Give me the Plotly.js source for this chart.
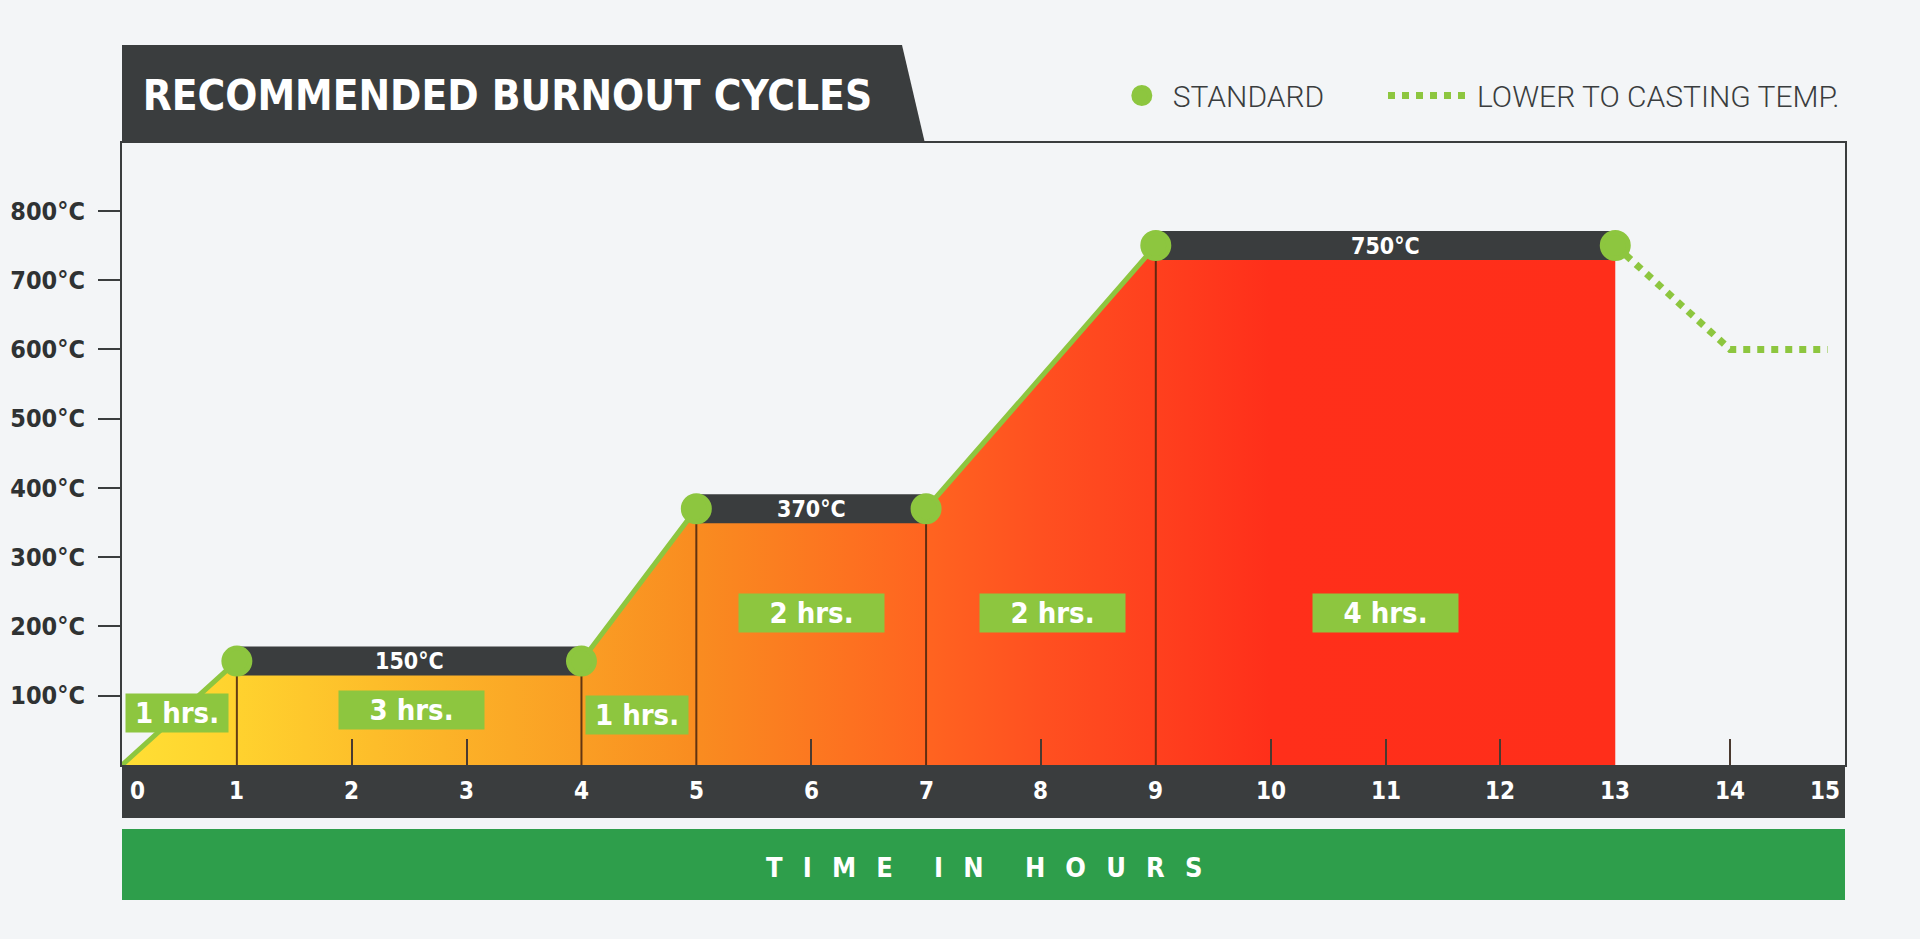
<!DOCTYPE html>
<html>
<head>
<meta charset="utf-8">
<script src="https://cdn.plot.ly/plotly-3.0.1.min.js"></script>
<style>
  html, body { margin: 0; padding: 0; background: #F3F5F7; }
  #chart { width: 1920px; height: 939px; }
</style>
</head>
<body>
<div id="chart"></div>
<script>
// ---------- data ----------
const cycleHours = [0, 1, 4, 5, 7, 9, 13];          // breakpoints of the standard cycle (h)
const cycleTemps = [0, 150, 150, 370, 370, 750, 750]; // temperature at each breakpoint (°C)

const holdStart = [1, 5, 9];
const holdEnd   = [4, 7, 13];
const holdTemp  = [150, 370, 750];

const castHours = [13, 14, 14.85];   // lower to casting temperature
const castTemps = [750, 600, 600];

const durationText  = ['1 hrs.', '3 hrs.', '1 hrs.', '2 hrs.', '2 hrs.', '4 hrs.'];
const durationHour  = [0.48, 2.52, 4.48, 6.0, 8.1, 11.0];
const durationTemp  = [75, 79, 72, 219, 219, 219];

const hourTicks   = [0,1,2,3,4,5,6,7,8,9,10,11,12,13,14,15];
const innerTicks  = [2, 3, 6, 8, 10, 11, 12, 14];
const tempTicks   = [100, 200, 300, 400, 500, 600, 700, 800];
const tempLabels  = tempTicks.map(t => t + '°C');

const titleText  = 'RECOMMENDED BURNOUT CYCLES';
const xTitleText = 'TIME IN HOURS';

// ---------- style ----------
const BG = '#F3F5F7';
const DARK = '#3A3D3E';
const LIME = '#8DC63F';
const GREENBAR = '#2E9E4B';
const COND = '"DejaVu Sans Condensed", "Liberation Sans Narrow", "DejaVu Sans", sans-serif';
const LIGHT = 'Roboto, "Liberation Sans", sans-serif';

const gradStops = [
  [0 / 13, '#FFDF34'],
  [1 / 13, '#FFD22E'],
  [4 / 13, '#FA9E24'],
  [5 / 13, '#F98C20'],
  [7 / 13, '#FF6420'],
  [8 / 13, '#FF5020'],
  [9 / 13, '#FF401E'],
  [10 / 13, '#FF2F1A'],
  [1, '#FF2E1A']
];

const traces = [];

// gradient fill under the cycle
traces.push({
  x: cycleHours, y: cycleTemps, type: 'scatter', mode: 'lines',
  line: { width: 0, color: 'rgba(0,0,0,0)' },
  fill: 'tozeroy',
  fillgradient: { type: 'horizontal', start: cycleHours[0], stop: cycleHours[cycleHours.length - 1], colorscale: gradStops },
  hoverinfo: 'skip', showlegend: false
});

// thin divider lines at interior breakpoints
const divX = [], divY = [];
for (let i = 1; i < cycleHours.length - 1; i++) {
  divX.push(cycleHours[i], cycleHours[i], null);
  divY.push(0, cycleTemps[i], null);
}
traces.push({
  x: divX, y: divY, type: 'scatter', mode: 'lines',
  line: { width: 2, color: 'rgba(70,35,15,0.85)' },
  hoverinfo: 'skip', showlegend: false
});

// green cycle line
traces.push({
  x: cycleHours, y: cycleTemps, type: 'scatter', mode: 'lines',
  line: { width: 5, color: LIME },
  hoverinfo: 'skip', showlegend: false
});

// dark hold bands
holdStart.forEach((s, i) => {
  traces.push({
    x: [s, holdEnd[i]], y: [holdTemp[i], holdTemp[i]], type: 'scatter', mode: 'lines',
    line: { width: 29, color: DARK },
    hoverinfo: 'skip', showlegend: false
  });
});

// dotted lower-to-casting-temp line
traces.push({
  x: castHours, y: castTemps, type: 'scatter', mode: 'lines',
  name: 'LOWER TO CASTING TEMP.',
  line: { width: 7, color: LIME, dash: 'dot' },
  hoverinfo: 'skip', showlegend: true, legend: 'legend2'
});

// standard markers
traces.push({
  x: cycleHours.slice(1), y: cycleTemps.slice(1), type: 'scatter', mode: 'markers',
  name: 'STANDARD',
  marker: { size: 26, color: LIME, line: { width: 5, color: LIME } },
  hoverinfo: 'skip', showlegend: true, legend: 'legend'
});

// ---------- annotations ----------
const annotations = [];

holdStart.forEach((s, i) => {
  annotations.push({
    x: (s + holdEnd[i]) / 2, y: holdTemp[i], xref: 'x', yref: 'y',
    text: holdTemp[i] + '°C', showarrow: false,
    font: { family: COND, size: 23, color: '#FFFFFF', weight: 'bold' }
  });
});

durationText.forEach((t, i) => {
  annotations.push({
    x: durationHour[i], y: durationTemp[i], xref: 'x', yref: 'y',
    text: t, showarrow: false,
    width: t.startsWith('1') ? 102 : 145, height: 38,
    bgcolor: LIME, borderpad: 0,
    font: { family: COND, size: 29, color: '#FFFFFF', weight: 'bold' }
  });
});

hourTicks.forEach((h, i) => {
  let shift = 0;
  if (i === 0) shift = 15;
  if (i === hourTicks.length - 1) shift = -20;
  annotations.push({
    x: h, y: -0.0426, xref: 'x', yref: 'paper', yanchor: 'middle',
    text: String(h), showarrow: false, xshift: shift,
    font: { family: COND, size: 24, color: '#FFFFFF', weight: 'bold' }
  });
});

const spaced = xTitleText.split(' ').map(w => w.split('').join('\u2002\u2004')).join('\u2003\u2002\u2009');
annotations.push({
  x: 0.5, y: -0.164, xref: 'paper', yref: 'paper', yanchor: 'middle',
  text: spaced, showarrow: false,
  font: { family: COND, size: 27, color: '#FFFFFF', weight: 'bold' }
});

// ---------- shapes (decoration) ----------
const shapes = [
  { type: 'path', xref: 'paper', yref: 'paper',
    path: 'M 0 1 L 0 1.1576 L 0.4527 1.1576 L 0.466 1 Z',
    fillcolor: DARK, line: { width: 0 }, layer: 'above' },
  { type: 'rect', xref: 'paper', yref: 'paper', x0: 0, x1: 1, y0: -0.0852, y1: 0,
    fillcolor: DARK, line: { width: 0 }, layer: 'above' },
  { type: 'rect', xref: 'paper', yref: 'paper', x0: 0, x1: 1, y0: -0.217, y1: -0.1029,
    fillcolor: GREENBAR, line: { width: 0 }, layer: 'above' }
];

const legendFont = { family: LIGHT, size: 30, color: DARK, weight: 300 };

const layout = {
  width: 1920, height: 939,
  margin: { l: 122, r: 75, t: 143, b: 174, pad: 0 },
  paper_bgcolor: BG, plot_bgcolor: BG,
  showlegend: true,
  title: {
    text: titleText, xref: 'paper', x: 0.012, xanchor: 'left',
    yref: 'container', y: 0.898, yanchor: 'middle',
    font: { family: COND, size: 42, color: '#FFFFFF', weight: 'bold' }
  },
  xaxis: {
    range: [0, 15], showgrid: false, zeroline: false,
    showline: true, mirror: true, linecolor: DARK, linewidth: 2,
    tickmode: 'array', tickvals: innerTicks, showticklabels: false,
    ticks: 'inside', ticklen: 26, tickwidth: 2, tickcolor: '#4A3A30',
    fixedrange: true
  },
  yaxis: {
    range: [0, 898], showgrid: false, zeroline: false,
    showline: true, mirror: true, linecolor: DARK, linewidth: 2,
    tickmode: 'array', tickvals: tempTicks, ticktext: tempLabels,
    ticks: 'outside', ticklen: 22, tickwidth: 2, tickcolor: DARK,
    ticklabelstandoff: 8,
    tickfont: { family: COND, size: 25, color: '#2F3233', weight: 'bold' },
    fixedrange: true
  },
  legend: {
    orientation: 'h', x: 0.701, xanchor: 'right', y: 1.0764, yanchor: 'middle',
    bgcolor: 'rgba(0,0,0,0)', itemwidth: 52, itemsizing: 'trace',
    font: legendFont
  },
  legend2: {
    orientation: 'h', x: 1.0, xanchor: 'right', y: 1.0764, yanchor: 'middle',
    bgcolor: 'rgba(0,0,0,0)', itemwidth: 84, itemsizing: 'trace',
    font: legendFont
  },
  annotations: annotations,
  shapes: shapes
};

Plotly.newPlot('chart', traces, layout, { displayModeBar: false, staticPlot: true });
</script>
</body>
</html>
